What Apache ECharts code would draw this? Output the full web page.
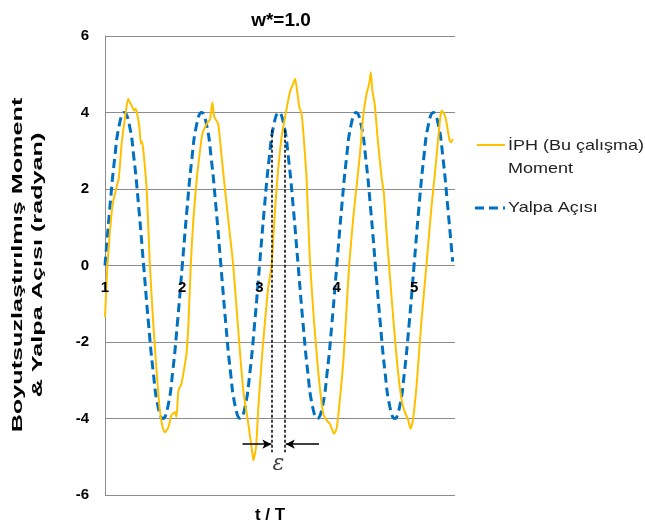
<!DOCTYPE html>
<html>
<head>
<meta charset="utf-8">
<script src="https://cdn.jsdelivr.net/npm/echarts@6/dist/echarts.min.js"></script>
<style>
  html, body { margin: 0; padding: 0; background: #fff; }
  #chart { width: 645px; height: 528px; }
</style>
</head>
<body>
<div id="chart"></div>
<script>
// Nondimensional roll moment (İPH, this study): time in periods and values
const momentT = [
  1.000, 1.030, 1.065, 1.100, 1.150, 1.180, 1.215, 1.260, 1.300, 1.325,
  1.345, 1.375, 1.395, 1.415, 1.445, 1.465, 1.480, 1.505, 1.540, 1.580,
  1.625, 1.670, 1.710, 1.745, 1.775, 1.820, 1.860, 1.905, 1.925, 1.950,
  1.990, 2.035, 2.055, 2.080, 2.110, 2.140, 2.185, 2.230, 2.260, 2.315,
  2.360, 2.390, 2.415, 2.465, 2.510, 2.550, 2.615, 2.660, 2.725, 2.790,
  2.855, 2.900, 2.920, 2.955, 2.985, 3.035, 3.083, 3.113, 3.156, 3.200,
  3.240, 3.285, 3.330, 3.370, 3.400, 3.435, 3.460, 3.480, 3.515, 3.545,
  3.575, 3.610, 3.650, 3.695, 3.740, 3.780, 3.825, 3.870, 3.910, 3.965,
  4.000, 4.040, 4.085, 4.125, 4.160, 4.210, 4.255, 4.300, 4.340, 4.385,
  4.420, 4.440, 4.460, 4.490, 4.535, 4.580, 4.610, 4.645, 4.685, 4.730,
  4.770, 4.815, 4.850, 4.890, 4.920, 4.955, 4.985, 5.030, 5.060, 5.100,
  5.160, 5.225, 5.270, 5.310, 5.340, 5.360, 5.400, 5.430, 5.460, 5.480,
  5.500
];
const momentV = [
  -1.35, -0.04, 0.92, 1.61, 2.05, 2.31, 3.18, 3.88, 4.36, 4.25,
  4.18, 4.05, 4.10, 3.98, 3.62, 3.18, 3.25, 2.83, 1.96, 0.04,
  -1.52, -2.83, -3.79, -4.23, -4.36, -4.23, -3.92, -3.83, -3.96, -3.27,
  -3.09, -2.57, -2.31, -1.52, 0.00, 1.09, 2.22, 3.00, 3.44, 3.70,
  3.83, 4.27, 3.88, 3.70, 2.83, 2.05, 0.83, 0.00, -1.70, -3.27,
  -4.14, -4.79, -5.10, -4.75, -3.70, -2.30, -1.18, -0.57, 0.00, 1.44,
  2.48, 3.35, 3.88, 4.31, 4.58, 4.75, 4.88, 4.66, 4.14, 3.96,
  3.27, 2.22, 0.22, -1.18, -2.31, -3.18, -3.88, -4.05, -4.14, -4.40,
  -4.23, -3.50, -2.50, -1.18, 0.00, 1.18, 2.05, 2.92, 3.88, 4.49,
  4.75, 5.05, 4.58, 4.23, 3.18, 2.31, 1.87, 0.83, -0.22, -1.35,
  -2.31, -3.18, -3.62, -3.88, -4.01, -4.27, -4.05, -3.20, -2.40, -1.35,
  0.00, 1.52, 2.40, 3.27, 3.88, 4.05, 3.92, 3.62, 3.27, 3.22,
  3.31
];

// Roll angle (Yalpa Açısı), read every 1/16 period
const angleT = [];
for (let i = 0; i <= 72; i++) angleT.push(1 + i / 16);
const angleV = [
  0.0, 1.5, 2.8, 3.7, 4.0, 3.7, 2.8, 1.5, 0.0, -1.5, -2.8, -3.7, -4.0, -3.7, -2.8, -1.5,
  0.0, 1.5, 2.8, 3.7, 4.0, 3.7, 2.8, 1.5, 0.0, -1.5, -2.8, -3.7, -4.0, -3.7, -2.8, -1.5,
  0.0, 1.5, 2.8, 3.7, 4.0, 3.7, 2.8, 1.5, 0.0, -1.5, -2.8, -3.7, -4.0, -3.7, -2.8, -1.5,
  0.0, 1.5, 2.8, 3.7, 4.0, 3.7, 2.8, 1.5, 0.0, -1.5, -2.8, -3.7, -4.0, -3.7, -2.8, -1.5,
  0.0, 1.5, 2.8, 3.7, 4.0, 3.7, 2.8, 1.5, 0.1
];

// Axis ticks
const xTicks = [1, 2, 3, 4, 5];
const yTicks = [-6, -4, -2, 0, 2, 4, 6];
const xMax = 5.53;

// Phase lag markers (ε) between the moment and the roll angle
const epsT = [3.158, 3.33];
const epsTop = 3.55;
const epsBottom = -4.88;
const arrowV = -4.67;

const ORANGE = '#FFC000';
const BLUE = '#0070C0';
const GRID = '#8c8c8c';
const FONT = '"Liberation Sans", Arial, sans-serif';

const zip = (a, b) => a.map((v, i) => [v, b[i]]);

const W = 645, H = 528;
const gridBox = { left: 105, right: 190, top: 36, bottom: 33 };
const plotH = H - gridBox.top - gridBox.bottom;
// the t axis crosses the value axis at zero (middle of the -6..6 range)
const zeroOffset = -plotH * (0 - yTicks[0]) / (yTicks[yTicks.length - 1] - yTicks[0]);

const chart = echarts.init(document.getElementById('chart'), null, { renderer: 'canvas' });

const option = {
  animation: false,
  backgroundColor: '#fff',
  title: {
    text: 'w*=1.0',
    left: 276,
    top: 6,
    textAlign: 'center',
    textStyle: { fontFamily: FONT, fontWeight: 'bold', fontSize: 19, color: '#000' }
  },
  grid: Object.assign({ containLabel: false, outerBoundsMode: 'none' }, gridBox),
  xAxis: [
    {
      type: 'value',
      min: xTicks[0],
      max: xMax,
      interval: 1,
      position: 'bottom',
      offset: zeroOffset,
      z: 10,
      axisLine: { show: false, onZero: false },
      axisTick: { show: false },
      splitLine: { show: false },
      axisLabel: {
        showMaxLabel: false,
        margin: 15,
        fontFamily: FONT, fontWeight: 'bold', fontSize: 15, color: '#000',
        formatter: v => (xTicks.includes(v) ? String(v) : '')
      }
    },
    {
      type: 'value',
      min: xTicks[0],
      max: xMax,
      position: 'bottom',
      name: 't / T',
      nameLocation: 'middle',
      nameGap: 12,
      nameTextStyle: { fontFamily: FONT, fontWeight: 'bold', fontSize: 17, color: '#000', padding: [0, 20, 0, 0] },
      axisLine: { show: false, onZero: false },
      axisTick: { show: false },
      axisLabel: { show: false },
      splitLine: { show: false }
    }
  ],
  yAxis: {
    type: 'value',
    min: yTicks[0],
    max: yTicks[yTicks.length - 1],
    interval: 2,
    axisLine: { show: true, onZero: false, lineStyle: { color: GRID, width: 1 } },
    axisTick: { show: false },
    splitLine: { show: true, lineStyle: { color: GRID, width: 1 } },
    axisLabel: { margin: 16, fontFamily: FONT, fontWeight: 'bold', fontSize: 15, color: '#000' }
  },
  series: [
    {
      name: 'İPH (Bu çalışma) Moment',
      type: 'line',
      xAxisIndex: 0,
      data: zip(momentT, momentV),
      symbol: 'none',
      smooth: 0.2,
      lineStyle: { color: ORANGE, width: 2 },
      z: 3,
      markLine: {
        silent: true,
        symbol: ['none', 'none'],
        label: { show: false },
        lineStyle: { color: '#000', type: [3, 2], width: 1.5 },
        data: [
          [{ coord: [epsT[0], epsTop] }, { coord: [epsT[0], epsBottom] }],
          [{ coord: [epsT[1], epsTop] }, { coord: [epsT[1], epsBottom] }]
        ]
      }
    },
    {
      name: 'Yalpa Açısı',
      type: 'line',
      xAxisIndex: 0,
      data: zip(angleT, angleV),
      symbol: 'none',
      smooth: true,
      lineStyle: { color: BLUE, width: 3, type: [9, 5] },
      z: 2,
      markLine: {
        silent: true,
        symbol: ['none', 'arrow'],
        symbolSize: [7, 9],
        label: { show: false },
        lineStyle: { color: '#000', type: 'solid', width: 1.5 },
        data: [
          [{ coord: [2.78, arrowV] }, { coord: [epsT[0] - 0.005, arrowV] }],
          [{ coord: [3.77, arrowV] }, { coord: [epsT[1] + 0.01, arrowV] }]
        ]
      },
      markPoint: {
        silent: true,
        symbol: 'circle',
        symbolSize: 0,
        data: [{ coord: [(epsT[0] + epsT[1]) / 2, -5.2] }],
        label: {
          show: true,
          formatter: 'ε',
          position: 'inside',
          fontFamily: 'DejaVu Serif, serif',
          fontStyle: 'italic',
          fontSize: 22,
          color: '#404048'
        }
      }
    }
  ],
  graphic: [
    // value axis title, two lines reading bottom to top
    {
      type: 'text',
      x: 28,
      y: 265,
      rotation: Math.PI / 2,
      scaleX: 1.68,
      style: {
        text: 'Boyutsuzlaştırılmış Moment\n& Yalpa Açısı (radyan)',
        align: 'center',
        verticalAlign: 'middle',
        font: 'bold 15px ' + FONT,
        lineHeight: 20,
        fill: '#000'
      }
    },
    // legend
    { type: 'line', shape: { x1: 477, y1: 145, x2: 505, y2: 145 }, style: { stroke: ORANGE, lineWidth: 2 } },
    { type: 'text', x: 508, y: 134, scaleX: 1.2, style: { text: 'İPH (Bu çalışma)\nMoment', font: '15px ' + FONT, fill: '#222', lineHeight: 23 } },
    { type: 'line', shape: { x1: 475, y1: 208, x2: 505, y2: 208 }, style: { stroke: BLUE, lineWidth: 3, lineDash: [9, 5] } },
    { type: 'text', x: 508, y: 200, scaleX: 1.2, style: { text: 'Yalpa Açısı', font: '15px ' + FONT, fill: '#222' } }
  ]
};

chart.setOption(option);
</script>
</body>
</html>
